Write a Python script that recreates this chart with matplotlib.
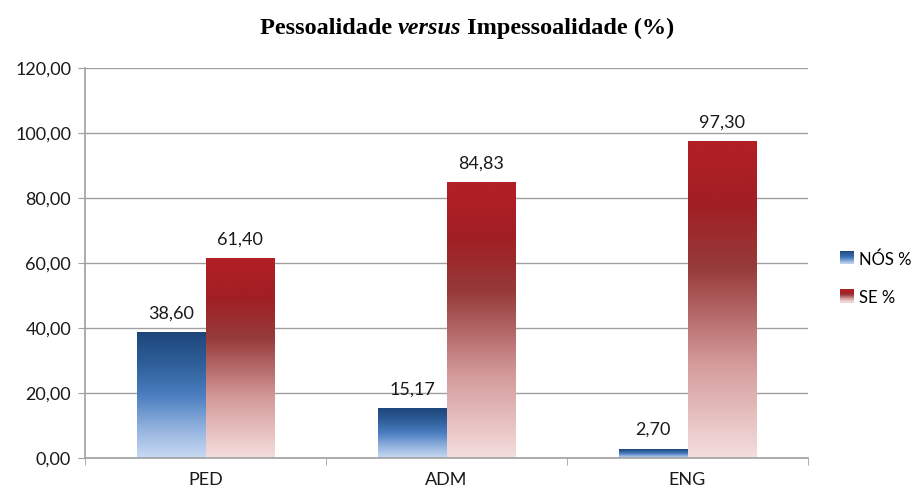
import numpy as np
import matplotlib
matplotlib.use('Agg')
import matplotlib.pyplot as plt
from matplotlib.colors import LinearSegmentedColormap
from matplotlib.patches import Rectangle
from matplotlib.legend_handler import HandlerBase

# dados
categorias = ['PED', 'ADM', 'ENG']
nos = [38.60, 15.17, 2.70]
se = [61.40, 84.83, 97.30]
series = ['NÓS %', 'SE %']
yticks = [0, 20, 40, 60, 80, 100, 120]

# gradientes (0 = base, 1 = topo)
cm_azul = LinearSegmentedColormap.from_list('azul', [
    (0.0, '#C8DAF2'), (0.25, '#8FAFDD'), (0.5, '#4A7EC0'),
    (0.75, '#2E5F99'), (1.0, '#1D467A')])
cm_verm = LinearSegmentedColormap.from_list('verm', [
    (0.0, '#F5DEDE'), (0.3, '#D49A9A'), (0.6, '#963B3A'),
    (0.8, '#A11F24'), (1.0, '#B31F26')])

plt.rcParams['font.family'] = ['Lato', 'DejaVu Sans']

fig = plt.figure(figsize=(9.17, 4.93), dpi=100)
ax = fig.add_axes([85 / 917, 35 / 493, 723 / 917, 390 / 493])

x = np.arange(len(categorias))
w = 0.286
grad = np.linspace(0, 1, 256).reshape(-1, 1)[::-1]


def barras(xs, vals, cmap):
    bars = ax.bar(xs, vals, w, align='edge', color='none', zorder=2)
    for b in bars:
        ax.imshow(grad, cmap=cmap, aspect='auto', zorder=2,
                  extent=[b.get_x(), b.get_x() + b.get_width(), 0, b.get_height()])
    return bars


b1 = barras(x - w, nos, cm_azul)
b2 = barras(x, se, cm_verm)

for bars, vals in [(b1, nos), (b2, se)]:
    for b, v in zip(bars, vals):
        ax.annotate(('%.2f' % v).replace('.', ','),
                    (b.get_x() + b.get_width() / 2, v),
                    xytext=(0, 8), textcoords='offset points',
                    ha='center', va='bottom', fontsize=13, color='#1a1a1a')

ax.set_xlim(-0.5, 2.5)
ax.set_ylim(0, 120)
ax.set_yticks(yticks)
ax.set_yticklabels([('%.2f' % t).replace('.', ',') for t in yticks], fontsize=13, color='#1a1a1a')
ax.set_xticks(x)
ax.set_xticklabels(categorias, fontsize=13, color='#1a1a1a')
ax.set_xticks([-0.5, 0.5, 1.5, 2.5], minor=True)
ax.tick_params(axis='x', which='major', length=0, pad=10)
ax.tick_params(axis='x', which='minor', length=5, color='#A0A0A0')
ax.tick_params(axis='y', length=5, color='#A0A0A0', pad=5)
ax.yaxis.grid(True, color='#A0A0A0', linewidth=1)
ax.set_axisbelow(True)
for s in ['top', 'right']:
    ax.spines[s].set_visible(False)
for s in ['left', 'bottom']:
    ax.spines[s].set_color('#A0A0A0')
    ax.spines[s].set_linewidth(1.2)


class GradHandler(HandlerBase):
    def __init__(self, cmap):
        super().__init__()
        self.cmap = cmap

    def create_artists(self, legend, orig, xd, yd, width, height, fontsize, trans):
        n = 12
        arts = []
        for i in range(n):
            arts.append(Rectangle((xd, yd + height * i / n), width, height / n + 0.3,
                                  facecolor=self.cmap((i + 0.5) / n), edgecolor='none',
                                  transform=trans))
        return arts


h1 = Rectangle((0, 0), 1, 1)
h2 = Rectangle((0, 0), 1, 1)
leg = ax.legend([h1, h2], series, loc='center left', bbox_to_anchor=(1.04, 0.46),
                frameon=False, fontsize=12, handlelength=0.8, handleheight=0.8,
                labelspacing=1.35, handletextpad=0.3, borderaxespad=0, borderpad=0.2,
                handler_map={h1: GradHandler(cm_azul), h2: GradHandler(cm_verm)})

# título com "versus" em itálico
partes = [('Pessoalidade ', 'normal'), ('versus', 'italic'), (' Impessoalidade (%)', 'normal')]
ty = 0.943
textos = [fig.text(0, ty, p, fontsize=17.5, fontweight='bold', fontstyle=st,
                   family='Liberation Serif', ha='left', va='center') for p, st in partes]
fig.canvas.draw()
larg = [tt.get_window_extent().width for tt in textos]
x0 = 467 - sum(larg) / 2
for tt, lw in zip(textos, larg):
    tt.set_x(x0 / 917)
    x0 += lw

fig.savefig('out.png', dpi=100)
